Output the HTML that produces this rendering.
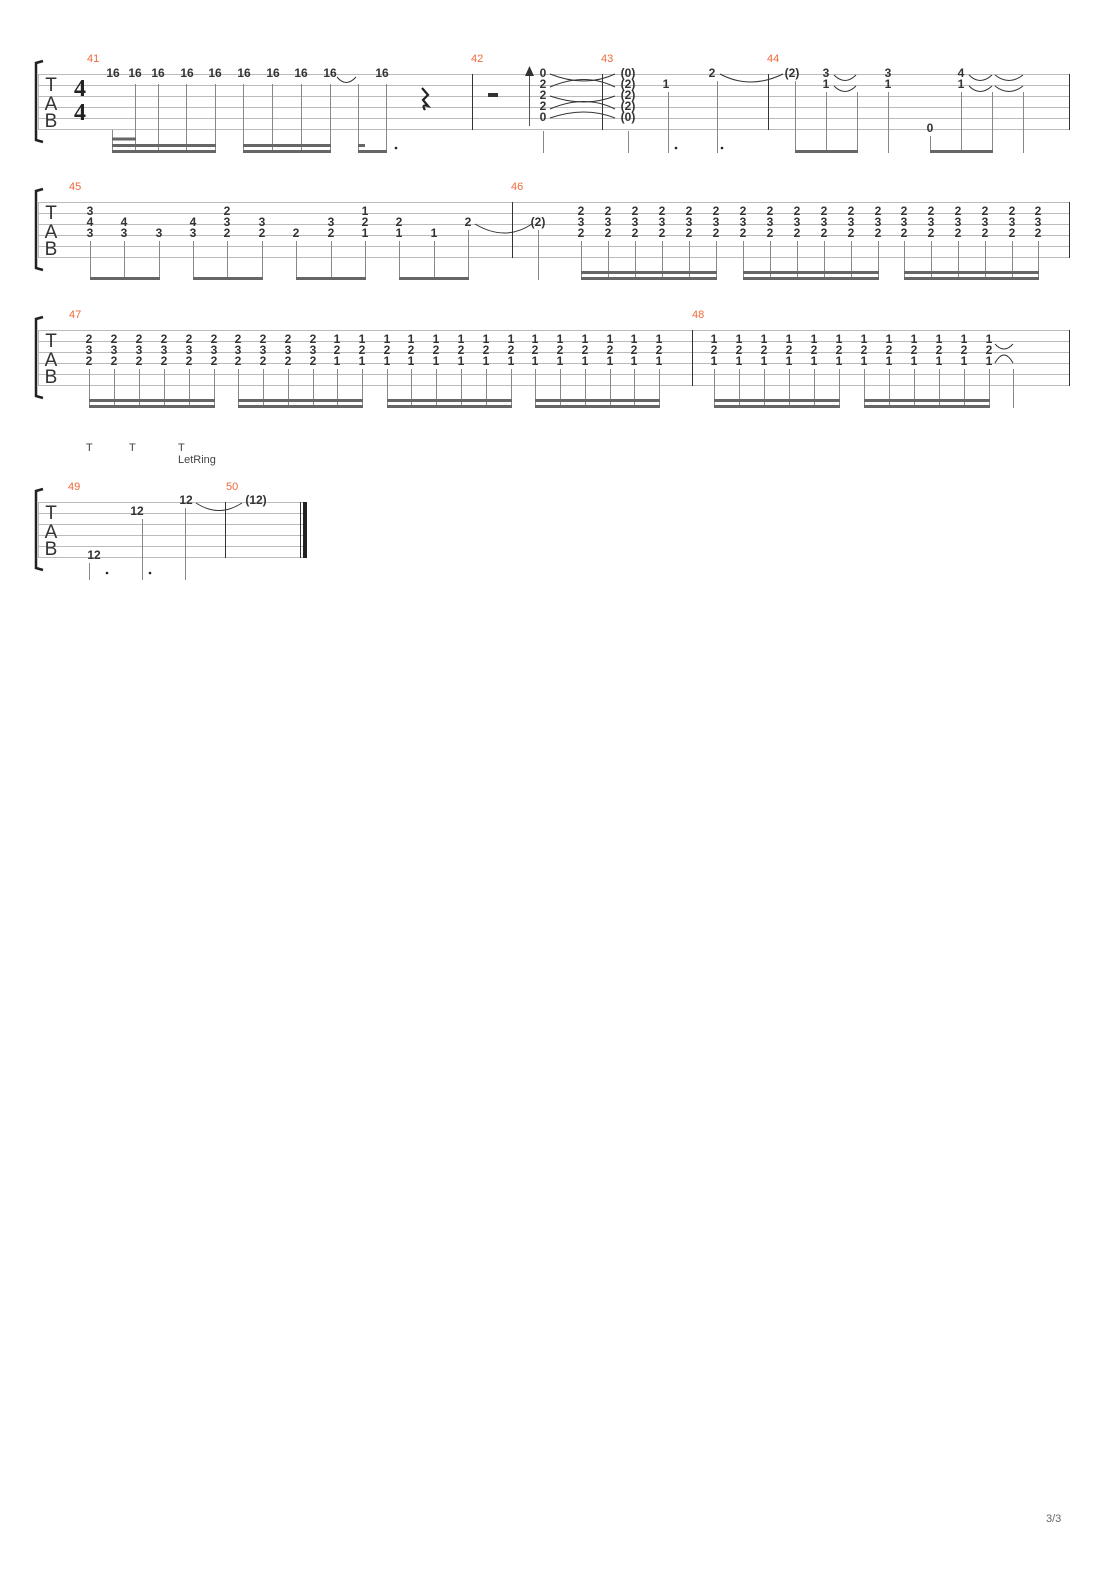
<!DOCTYPE html>
<html><head><meta charset="utf-8"><style>
html,body{margin:0;padding:0;background:#fff}
svg{display:block}
.n{font:bold 12px "Liberation Sans",sans-serif;fill:#333;text-anchor:middle}
.m{font:11px "Liberation Sans",sans-serif;fill:#f0683a}
.tab{font:19px "Liberation Sans",sans-serif;fill:#333;text-anchor:middle}
.sl{stroke:#bbb;stroke-width:1}
.st{stroke:#888;stroke-width:1}
.bm{stroke:#666;stroke-width:3}
.bl{stroke:#333;stroke-width:1}
.tie{fill:none;stroke:#333;stroke-width:1}
</style></head><body>
<svg width="1110" height="1570" viewBox="0 0 1110 1570" xmlns="http://www.w3.org/2000/svg">
<!-- brackets -->
<g fill="none" stroke="#222" stroke-width="2.5">
<path d="M43,61 L36,63 L36,140 L43,142"/>
<path d="M43,189 L36,191 L36,268 L43,270"/>
<path d="M43,317 L36,319 L36,396 L43,398"/>
<path d="M43,489 L36,491 L36,568 L43,570"/>
</g>
<!-- system 1 -->
<g class="sl">
<line x1="38" y1="74.5" x2="1069" y2="74.5"/><line x1="38" y1="85.5" x2="1069" y2="85.5"/><line x1="38" y1="96.5" x2="1069" y2="96.5"/><line x1="38" y1="107.5" x2="1069" y2="107.5"/><line x1="38" y1="118.5" x2="1069" y2="118.5"/><line x1="38" y1="129.5" x2="1069" y2="129.5"/>
<line x1="38.5" y1="74" x2="38.5" y2="130"/>
</g>
<text class="tab" x="51" y="91">T</text><text class="tab" x="51" y="110">A</text><text class="tab" x="51" y="127">B</text>
<text x="80" y="96" style="font:bold 24px 'Liberation Serif',serif;fill:#222;text-anchor:middle">4</text>
<text x="80" y="120" style="font:bold 24px 'Liberation Serif',serif;fill:#222;text-anchor:middle">4</text>
<text class="m" x="87" y="62">41</text><text class="m" x="471" y="62">42</text><text class="m" x="601" y="62">43</text><text class="m" x="767" y="62">44</text>
<g class="n">
<text x="113" y="77">16</text><text x="135" y="77">16</text><text x="158" y="77">16</text><text x="187" y="77">16</text><text x="215" y="77">16</text>
<text x="244" y="77">16</text><text x="273" y="77">16</text><text x="301" y="77">16</text><text x="330" y="77">16</text><text x="382" y="77">16</text>
<text x="543" y="77">0</text><text x="543" y="88">2</text><text x="543" y="99">2</text><text x="543" y="110">2</text><text x="543" y="121">0</text>
<text x="628" y="77">(0)</text><text x="628" y="88">(2)</text><text x="628" y="99">(2)</text><text x="628" y="110">(2)</text><text x="628" y="121">(0)</text>
<text x="666" y="88">1</text><text x="712" y="77">2</text><text x="792" y="77">(2)</text>
<text x="826" y="77">3</text><text x="826" y="88">1</text><text x="888" y="77">3</text><text x="888" y="88">1</text>
<text x="930" y="132">0</text><text x="961" y="77">4</text><text x="961" y="88">1</text>
</g>
<g class="st">
<line x1="112.5" y1="130" x2="112.5" y2="153"/><line x1="135.5" y1="84" x2="135.5" y2="153"/><line x1="158.5" y1="84" x2="158.5" y2="153"/><line x1="186.5" y1="84" x2="186.5" y2="153"/><line x1="215.5" y1="84" x2="215.5" y2="153"/>
<line x1="243.5" y1="84" x2="243.5" y2="153"/><line x1="272.5" y1="84" x2="272.5" y2="153"/><line x1="301.5" y1="84" x2="301.5" y2="153"/><line x1="330.5" y1="84" x2="330.5" y2="153"/><line x1="358.5" y1="84" x2="358.5" y2="153"/><line x1="386.5" y1="84" x2="386.5" y2="153"/>
<line x1="543.5" y1="131" x2="543.5" y2="153"/><line x1="628.5" y1="131" x2="628.5" y2="153"/><line x1="668.5" y1="92" x2="668.5" y2="153"/><line x1="717.5" y1="81" x2="717.5" y2="153"/>
<line x1="795.5" y1="81" x2="795.5" y2="153"/><line x1="826.5" y1="92" x2="826.5" y2="153"/><line x1="857.5" y1="92" x2="857.5" y2="153"/><line x1="888.5" y1="92" x2="888.5" y2="153"/><line x1="930.5" y1="136" x2="930.5" y2="153"/><line x1="961.5" y1="92" x2="961.5" y2="153"/><line x1="992.5" y1="92" x2="992.5" y2="153"/><line x1="1023.5" y1="92" x2="1023.5" y2="153"/>
</g>
<g class="bm">
<line x1="112" y1="139" x2="136" y2="139"/><line x1="112" y1="145.5" x2="216" y2="145.5"/><line x1="112" y1="151.5" x2="216" y2="151.5"/>
<line x1="243" y1="145.5" x2="331" y2="145.5"/><line x1="243" y1="151.5" x2="331" y2="151.5"/>
<line x1="358" y1="145.5" x2="365" y2="145.5"/><line x1="358" y1="151.5" x2="387" y2="151.5"/>
<line x1="795" y1="151.5" x2="858" y2="151.5"/><line x1="930" y1="151.5" x2="993" y2="151.5"/>
</g>
<g fill="#222"><circle cx="396" cy="148" r="1.3"/><circle cx="676" cy="148" r="1.3"/><circle cx="722" cy="148" r="1.3"/></g>
<path d="M337,77 Q346,88 356,77" class="tie"/>
<!-- quarter rest -->
<path d="M422,88 L428,95 L423,100 L428,106 Q421,104 425,110" fill="none" stroke="#222" stroke-width="2.2"/>
<rect x="488" y="93" width="10" height="4" fill="#333"/>
<line x1="472.5" y1="74" x2="472.5" y2="130" class="bl"/>
<line x1="529.5" y1="75" x2="529.5" y2="126" stroke="#555"/><path d="M525,76 L529.5,66 L534,76 Z" fill="#333"/>
<line x1="602.5" y1="74" x2="602.5" y2="130" class="bl"/><line x1="768.5" y1="74" x2="768.5" y2="130" class="bl"/>
<line x1="1069.5" y1="74" x2="1069.5" y2="130" class="bl"/>
<g class="tie">
<path d="M550,74 Q585,88 615,74"/><path d="M550,87 Q585,72 615,87"/><path d="M550,96 Q585,108 615,96"/><path d="M550,109 Q585,94 615,109"/><path d="M550,118 Q585,106 615,118"/>
<path d="M720,74 Q750,90 783,74"/>
<path d="M834,75 Q845,86 856,75"/><path d="M834,86 Q845,97 856,86"/>
<path d="M969,75 Q980,86 992,75"/><path d="M969,86 Q980,97 992,86"/><path d="M995,75 Q1009,86 1023,75"/><path d="M995,86 Q1009,97 1023,86"/>
</g>
<!-- system 2 -->
<g class="sl">
<line x1="38" y1="202.5" x2="1069" y2="202.5"/><line x1="38" y1="213.5" x2="1069" y2="213.5"/><line x1="38" y1="224.5" x2="1069" y2="224.5"/><line x1="38" y1="235.5" x2="1069" y2="235.5"/><line x1="38" y1="246.5" x2="1069" y2="246.5"/><line x1="38" y1="257.5" x2="1069" y2="257.5"/>
<line x1="38.5" y1="202" x2="38.5" y2="258"/>
</g>
<text class="tab" x="51" y="219">T</text><text class="tab" x="51" y="238">A</text><text class="tab" x="51" y="255">B</text>
<text class="m" x="69" y="190">45</text><text class="m" x="511" y="190">46</text>
<line x1="512.5" y1="202" x2="512.5" y2="258" class="bl"/><line x1="1069.5" y1="202" x2="1069.5" y2="258" class="bl"/>
<g class="n">
<text x="90" y="215">3</text><text x="90" y="226">4</text><text x="90" y="237">3</text>
<text x="124" y="226">4</text><text x="124" y="237">3</text><text x="159" y="237">3</text>
<text x="193" y="226">4</text><text x="193" y="237">3</text>
<text x="227" y="215">2</text><text x="227" y="226">3</text><text x="227" y="237">2</text>
<text x="262" y="226">3</text><text x="262" y="237">2</text><text x="296" y="237">2</text>
<text x="331" y="226">3</text><text x="331" y="237">2</text>
<text x="365" y="215">1</text><text x="365" y="226">2</text><text x="365" y="237">1</text>
<text x="399" y="226">2</text><text x="399" y="237">1</text><text x="434" y="237">1</text><text x="468" y="226">2</text>
<text x="538" y="226">(2)</text>
</g>
<g class="n">
<text x="581" y="215">2</text><text x="581" y="226">3</text><text x="581" y="237">2</text>
<text x="608" y="215">2</text><text x="608" y="226">3</text><text x="608" y="237">2</text>
<text x="635" y="215">2</text><text x="635" y="226">3</text><text x="635" y="237">2</text>
<text x="662" y="215">2</text><text x="662" y="226">3</text><text x="662" y="237">2</text>
<text x="689" y="215">2</text><text x="689" y="226">3</text><text x="689" y="237">2</text>
<text x="716" y="215">2</text><text x="716" y="226">3</text><text x="716" y="237">2</text>
<text x="743" y="215">2</text><text x="743" y="226">3</text><text x="743" y="237">2</text>
<text x="770" y="215">2</text><text x="770" y="226">3</text><text x="770" y="237">2</text>
<text x="797" y="215">2</text><text x="797" y="226">3</text><text x="797" y="237">2</text>
<text x="824" y="215">2</text><text x="824" y="226">3</text><text x="824" y="237">2</text>
<text x="851" y="215">2</text><text x="851" y="226">3</text><text x="851" y="237">2</text>
<text x="878" y="215">2</text><text x="878" y="226">3</text><text x="878" y="237">2</text>
<text x="904" y="215">2</text><text x="904" y="226">3</text><text x="904" y="237">2</text>
<text x="931" y="215">2</text><text x="931" y="226">3</text><text x="931" y="237">2</text>
<text x="958" y="215">2</text><text x="958" y="226">3</text><text x="958" y="237">2</text>
<text x="985" y="215">2</text><text x="985" y="226">3</text><text x="985" y="237">2</text>
<text x="1012" y="215">2</text><text x="1012" y="226">3</text><text x="1012" y="237">2</text>
<text x="1038" y="215">2</text><text x="1038" y="226">3</text><text x="1038" y="237">2</text>
</g>
<path d="M475,224 Q505,242 532,224" class="tie"/>
<g class="st">
<line x1="90.5" y1="241" x2="90.5" y2="280"/><line x1="124.5" y1="241" x2="124.5" y2="280"/><line x1="159.5" y1="241" x2="159.5" y2="280"/>
<line x1="193.5" y1="241" x2="193.5" y2="280"/><line x1="227.5" y1="241" x2="227.5" y2="280"/><line x1="262.5" y1="241" x2="262.5" y2="280"/>
<line x1="296.5" y1="241" x2="296.5" y2="280"/><line x1="331.5" y1="241" x2="331.5" y2="280"/><line x1="365.5" y1="241" x2="365.5" y2="280"/>
<line x1="399.5" y1="241" x2="399.5" y2="280"/><line x1="434.5" y1="241" x2="434.5" y2="280"/><line x1="468.5" y1="230" x2="468.5" y2="280"/>
<line x1="538.5" y1="230" x2="538.5" y2="280"/>
<line x1="581.5" y1="241" x2="581.5" y2="280"/><line x1="608.5" y1="241" x2="608.5" y2="280"/><line x1="635.5" y1="241" x2="635.5" y2="280"/><line x1="662.5" y1="241" x2="662.5" y2="280"/><line x1="689.5" y1="241" x2="689.5" y2="280"/><line x1="716.5" y1="241" x2="716.5" y2="280"/>
<line x1="743.5" y1="241" x2="743.5" y2="280"/><line x1="770.5" y1="241" x2="770.5" y2="280"/><line x1="797.5" y1="241" x2="797.5" y2="280"/><line x1="824.5" y1="241" x2="824.5" y2="280"/><line x1="851.5" y1="241" x2="851.5" y2="280"/><line x1="878.5" y1="241" x2="878.5" y2="280"/>
<line x1="904.5" y1="241" x2="904.5" y2="280"/><line x1="931.5" y1="241" x2="931.5" y2="280"/><line x1="958.5" y1="241" x2="958.5" y2="280"/><line x1="985.5" y1="241" x2="985.5" y2="280"/><line x1="1012.5" y1="241" x2="1012.5" y2="280"/><line x1="1038.5" y1="241" x2="1038.5" y2="280"/>
</g>
<g class="bm">
<line x1="90" y1="278.5" x2="160" y2="278.5"/><line x1="193" y1="278.5" x2="263" y2="278.5"/><line x1="296" y1="278.5" x2="366" y2="278.5"/><line x1="399" y1="278.5" x2="469" y2="278.5"/>
<line x1="581" y1="272.5" x2="717" y2="272.5"/><line x1="581" y1="278.5" x2="717" y2="278.5"/>
<line x1="743" y1="272.5" x2="879" y2="272.5"/><line x1="743" y1="278.5" x2="879" y2="278.5"/>
<line x1="904" y1="272.5" x2="1039" y2="272.5"/><line x1="904" y1="278.5" x2="1039" y2="278.5"/>
</g>
<!-- system 3 -->
<g class="sl">
<line x1="38" y1="330.5" x2="1069" y2="330.5"/><line x1="38" y1="341.5" x2="1069" y2="341.5"/><line x1="38" y1="352.5" x2="1069" y2="352.5"/><line x1="38" y1="363.5" x2="1069" y2="363.5"/><line x1="38" y1="374.5" x2="1069" y2="374.5"/><line x1="38" y1="385.5" x2="1069" y2="385.5"/>
<line x1="38.5" y1="330" x2="38.5" y2="386"/>
</g>
<text class="tab" x="51" y="347">T</text><text class="tab" x="51" y="366">A</text><text class="tab" x="51" y="383">B</text>
<text class="m" x="69" y="318">47</text><text class="m" x="692" y="318">48</text>
<line x1="692.5" y1="330" x2="692.5" y2="386" class="bl"/><line x1="1069.5" y1="330" x2="1069.5" y2="386" class="bl"/>
<g class="n">
<text x="89" y="343">2</text><text x="89" y="354">3</text><text x="89" y="365">2</text>
<text x="114" y="343">2</text><text x="114" y="354">3</text><text x="114" y="365">2</text>
<text x="139" y="343">2</text><text x="139" y="354">3</text><text x="139" y="365">2</text>
<text x="164" y="343">2</text><text x="164" y="354">3</text><text x="164" y="365">2</text>
<text x="189" y="343">2</text><text x="189" y="354">3</text><text x="189" y="365">2</text>
<text x="214" y="343">2</text><text x="214" y="354">3</text><text x="214" y="365">2</text>
<text x="238" y="343">2</text><text x="238" y="354">3</text><text x="238" y="365">2</text>
<text x="263" y="343">2</text><text x="263" y="354">3</text><text x="263" y="365">2</text>
<text x="288" y="343">2</text><text x="288" y="354">3</text><text x="288" y="365">2</text>
<text x="313" y="343">2</text><text x="313" y="354">3</text><text x="313" y="365">2</text>
<text x="337" y="343">1</text><text x="337" y="354">2</text><text x="337" y="365">1</text>
<text x="362" y="343">1</text><text x="362" y="354">2</text><text x="362" y="365">1</text>
<text x="387" y="343">1</text><text x="387" y="354">2</text><text x="387" y="365">1</text>
<text x="411" y="343">1</text><text x="411" y="354">2</text><text x="411" y="365">1</text>
<text x="436" y="343">1</text><text x="436" y="354">2</text><text x="436" y="365">1</text>
<text x="461" y="343">1</text><text x="461" y="354">2</text><text x="461" y="365">1</text>
<text x="486" y="343">1</text><text x="486" y="354">2</text><text x="486" y="365">1</text>
<text x="511" y="343">1</text><text x="511" y="354">2</text><text x="511" y="365">1</text>
<text x="535" y="343">1</text><text x="535" y="354">2</text><text x="535" y="365">1</text>
<text x="560" y="343">1</text><text x="560" y="354">2</text><text x="560" y="365">1</text>
<text x="585" y="343">1</text><text x="585" y="354">2</text><text x="585" y="365">1</text>
<text x="610" y="343">1</text><text x="610" y="354">2</text><text x="610" y="365">1</text>
<text x="634" y="343">1</text><text x="634" y="354">2</text><text x="634" y="365">1</text>
<text x="659" y="343">1</text><text x="659" y="354">2</text><text x="659" y="365">1</text>
<text x="714" y="343">1</text><text x="714" y="354">2</text><text x="714" y="365">1</text>
<text x="739" y="343">1</text><text x="739" y="354">2</text><text x="739" y="365">1</text>
<text x="764" y="343">1</text><text x="764" y="354">2</text><text x="764" y="365">1</text>
<text x="789" y="343">1</text><text x="789" y="354">2</text><text x="789" y="365">1</text>
<text x="814" y="343">1</text><text x="814" y="354">2</text><text x="814" y="365">1</text>
<text x="839" y="343">1</text><text x="839" y="354">2</text><text x="839" y="365">1</text>
<text x="864" y="343">1</text><text x="864" y="354">2</text><text x="864" y="365">1</text>
<text x="889" y="343">1</text><text x="889" y="354">2</text><text x="889" y="365">1</text>
<text x="914" y="343">1</text><text x="914" y="354">2</text><text x="914" y="365">1</text>
<text x="939" y="343">1</text><text x="939" y="354">2</text><text x="939" y="365">1</text>
<text x="964" y="343">1</text><text x="964" y="354">2</text><text x="964" y="365">1</text>
<text x="989" y="343">1</text><text x="989" y="354">2</text><text x="989" y="365">1</text>
</g>
<g class="tie"><path d="M995,344 Q1004,354 1013,344"/><path d="M995,363 Q1004,347 1013,363"/></g>
<g class="st">
<line x1="89.5" y1="369" x2="89.5" y2="407"/><line x1="114.5" y1="369" x2="114.5" y2="407"/><line x1="139.5" y1="369" x2="139.5" y2="407"/><line x1="164.5" y1="369" x2="164.5" y2="407"/><line x1="189.5" y1="369" x2="189.5" y2="407"/><line x1="214.5" y1="369" x2="214.5" y2="407"/>
<line x1="238.5" y1="369" x2="238.5" y2="407"/><line x1="263.5" y1="369" x2="263.5" y2="407"/><line x1="288.5" y1="369" x2="288.5" y2="407"/><line x1="313.5" y1="369" x2="313.5" y2="407"/><line x1="337.5" y1="369" x2="337.5" y2="407"/><line x1="362.5" y1="369" x2="362.5" y2="407"/>
<line x1="387.5" y1="369" x2="387.5" y2="407"/><line x1="411.5" y1="369" x2="411.5" y2="407"/><line x1="436.5" y1="369" x2="436.5" y2="407"/><line x1="461.5" y1="369" x2="461.5" y2="407"/><line x1="486.5" y1="369" x2="486.5" y2="407"/><line x1="511.5" y1="369" x2="511.5" y2="407"/>
<line x1="535.5" y1="369" x2="535.5" y2="407"/><line x1="560.5" y1="369" x2="560.5" y2="407"/><line x1="585.5" y1="369" x2="585.5" y2="407"/><line x1="610.5" y1="369" x2="610.5" y2="407"/><line x1="634.5" y1="369" x2="634.5" y2="407"/><line x1="659.5" y1="369" x2="659.5" y2="407"/>
<line x1="714.5" y1="369" x2="714.5" y2="407"/><line x1="739.5" y1="369" x2="739.5" y2="407"/><line x1="764.5" y1="369" x2="764.5" y2="407"/><line x1="789.5" y1="369" x2="789.5" y2="407"/><line x1="814.5" y1="369" x2="814.5" y2="407"/><line x1="839.5" y1="369" x2="839.5" y2="407"/>
<line x1="864.5" y1="369" x2="864.5" y2="407"/><line x1="889.5" y1="369" x2="889.5" y2="407"/><line x1="914.5" y1="369" x2="914.5" y2="407"/><line x1="939.5" y1="369" x2="939.5" y2="407"/><line x1="964.5" y1="369" x2="964.5" y2="407"/><line x1="989.5" y1="369" x2="989.5" y2="407"/>
<line x1="1013.5" y1="369" x2="1013.5" y2="408"/>
</g>
<g class="bm">
<line x1="89" y1="400.5" x2="215" y2="400.5"/><line x1="89" y1="406.5" x2="215" y2="406.5"/>
<line x1="238" y1="400.5" x2="363" y2="400.5"/><line x1="238" y1="406.5" x2="363" y2="406.5"/>
<line x1="387" y1="400.5" x2="512" y2="400.5"/><line x1="387" y1="406.5" x2="512" y2="406.5"/>
<line x1="535" y1="400.5" x2="660" y2="400.5"/><line x1="535" y1="406.5" x2="660" y2="406.5"/>
<line x1="714" y1="400.5" x2="840" y2="400.5"/><line x1="714" y1="406.5" x2="840" y2="406.5"/>
<line x1="864" y1="400.5" x2="990" y2="400.5"/><line x1="864" y1="406.5" x2="990" y2="406.5"/>
</g>
<!-- system 4 -->
<g style="font:11px 'Liberation Sans',sans-serif;fill:#444">
<text x="86" y="451">T</text><text x="129" y="451">T</text><text x="178" y="451">T</text><text x="178" y="463">LetRing</text>
</g>
<g class="sl">
<line x1="38" y1="502.5" x2="306" y2="502.5"/><line x1="38" y1="513.5" x2="306" y2="513.5"/><line x1="38" y1="524.5" x2="306" y2="524.5"/><line x1="38" y1="535.5" x2="306" y2="535.5"/><line x1="38" y1="546.5" x2="306" y2="546.5"/><line x1="38" y1="557.5" x2="306" y2="557.5"/>
<line x1="38.5" y1="502" x2="38.5" y2="558"/>
</g>
<text class="tab" x="51" y="519">T</text><text class="tab" x="51" y="538">A</text><text class="tab" x="51" y="555">B</text>
<text class="m" x="68" y="490">49</text><text class="m" x="226" y="490">50</text>
<g class="n"><text x="94" y="559">12</text><text x="137" y="515">12</text><text x="186" y="504">12</text><text x="256" y="504">(12)</text></g>
<g class="st"><line x1="89.5" y1="563" x2="89.5" y2="580"/><line x1="142.5" y1="519" x2="142.5" y2="580"/><line x1="185.5" y1="508" x2="185.5" y2="580"/></g>
<g fill="#222"><circle cx="107" cy="573" r="1.3"/><circle cx="150" cy="573" r="1.3"/></g>
<path d="M196,503 Q219,518 242,503" class="tie"/>
<line x1="225.5" y1="502" x2="225.5" y2="558" class="bl"/>
<line x1="300.5" y1="502" x2="300.5" y2="558" class="bl"/>
<rect x="303" y="502" width="4" height="56" fill="#222"/>
<text x="1046" y="1522" style="font:11px 'Liberation Sans',sans-serif;fill:#666">3/3</text>
</svg>
</body></html>
